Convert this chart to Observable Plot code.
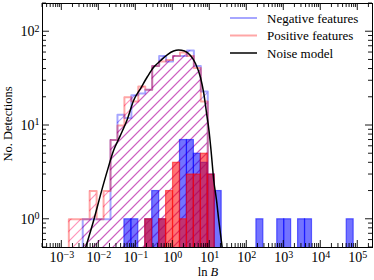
<!DOCTYPE html>
<html><head><meta charset="utf-8">
<script src="https://cdn.jsdelivr.net/npm/d3@7"></script>
<script src="https://cdn.jsdelivr.net/npm/@observablehq/plot@0.6"></script>
<style>body{margin:0;background:#fff}</style>
</head><body><div id="chart"></div>
<script>
// ---- data ----
// histogram bins: log10 of first edge and log10 bin width (log-spaced bins)
const binLog0 = -2.811;
const binLogW = 0.1878;
// step (hatched) histograms, counts per bin starting at bin 0
const negStepCounts = [0,0,1,1,1,1,7,13,12,21,22,24,43,55,48,55,55,63,43,23];
const posStepCounts = [1,1,1,2,1,2,7,10,20,18,26,24,43,48,50,55,60,55,41,18];
// filled histograms, counts per bin starting at bin 0
const negBarCounts = [0,0,0,0,0,0,0,0,1,1, 0,1,2,1,0,0,7,7,5,4, 3,2,0,0,0,0,0,1,0,0, 1,1,0,1,1,0,0,0,0,0, 1];
const posBarCounts = [0,0,0,0,0,0,0,0,0,0, 0,1,0,1,2,4,1,3,3,5, 3,0];
// noise model curve
const noiseX = [0.0044,0.0074,0.011,0.017,0.025,0.038,0.060,0.087,0.134,0.207,0.30,0.47,0.72,1.05,1.43,2.07,3.0,4.1,5.6,6.8,8.2,9.5,10.8,12.8,15.2,17.5,21.6];
const noiseY = [0.5,1.0,1.8,3.3,5.4,7.8,11.9,18.5,24.8,33.3,41.5,49.3,57.1,62.3,63.8,62.3,55.7,45.8,32.5,22.5,13.4,8.85,5.41,2.59,1.59,0.97,0.5];
// axes
const xDomain = [3e-4, 2.5e5];
const yDomain = [0.5, 200];
const xMajor = [1e-3,1e-2,1e-1,1e0,1e1,1e2,1e3,1e4,1e5];
const xExp = ["−3","−2","−1","0","1","2","3","4","5"];
const yMajor = [1,10,100];
const yExp = ["0","1","2"];
const legendLabels = ["Negative features","Positive features","Noise model"];

// ---- build ----
const floor = 0.2;
const edge = k => Math.pow(10, binLog0 + k*binLogW);
function stepPts(c){
  const p = [{x: edge(0), y: floor}];
  c.forEach((v,k) => p.push({x: edge(k), y: v > 0 ? v : floor}));
  p.push({x: edge(c.length), y: floor});
  return p;
}
const bars = c => c.map((v,k)=>({x1: edge(k), x2: edge(k+1), c: v})).filter(d=>d.c>0);
const negPts = stepPts(negStepCounts), posPts = stepPts(posStepCounts);
const noise = noiseX.map((x,i)=>({x, y: noiseY[i]}));

const cNegL = "rgba(0,0,255,0.35)", cPosL = "rgba(255,0,0,0.35)";
const cNegH = "rgba(40,0,255,0.38)", cPosH = "rgba(255,0,90,0.42)";
const cNegF = "rgba(0,0,255,0.55)", cPosF = "rgba(255,0,0,0.55)";
const xi = new Map(xMajor.map((v,i)=>[v,xExp[i]]));
const yi = new Map(yMajor.map((v,i)=>[v,yExp[i]]));
const FONT = "'Liberation Serif', serif";

const plot = Plot.plot({
  width: 374, height: 280,
  marginLeft: 42, marginRight: 2, marginTop: 3, marginBottom: 33,
  x: {type: "log", domain: xDomain},
  y: {type: "log", domain: yDomain},
  style: {fontFamily: FONT, fontSize: "14px", color: "black", background: "white"},
  marks: [
    Plot.areaY(negPts, {x: "x", y1: floor, y2: "y", curve: "step-after", fill: "url(#hatchNeg)", clip: true}),
    Plot.areaY(posPts, {x: "x", y1: floor, y2: "y", curve: "step-after", fill: "url(#hatchPos)", clip: true}),
    Plot.line(negPts, {x: "x", y: "y", curve: "step-after", stroke: cNegL, strokeWidth: 2, clip: true}),
    Plot.line(posPts, {x: "x", y: "y", curve: "step-after", stroke: cPosL, strokeWidth: 2, clip: true}),
    Plot.rect(bars(negBarCounts), {x1: "x1", x2: "x2", y1: floor, y2: "c", fill: cNegF, stroke: cNegF, strokeWidth: 1.2, clip: true}),
    Plot.rect(bars(posBarCounts), {x1: "x1", x2: "x2", y1: floor, y2: "c", fill: cPosF, stroke: cPosF, strokeWidth: 1.2, clip: true}),
    Plot.line(noise, {x: "x", y: "y", curve: "monotone-x", stroke: "black", strokeWidth: 1.5, clip: true}),
    Plot.frame({stroke: "black", strokeWidth: 1}),
    Plot.axisX({ticks: xMajor, tickSize: 0, tickPadding: 5, tickFormat: d => "10^" + xi.get(d), label: null}),
    Plot.axisY({ticks: yMajor, tickSize: 0, tickPadding: 3, tickFormat: d => "10^" + yi.get(d), label: null})
  ]
});
document.getElementById("chart").appendChild(plot);

const svg = d3.select(plot);
const defs = svg.insert("defs", ":first-child");
[["hatchNeg", cNegH], ["hatchPos", cPosH]].forEach(([id, col]) => {
  const p = defs.append("pattern").attr("id", id).attr("patternUnits", "userSpaceOnUse")
    .attr("width", 10).attr("height", 10);
  p.append("path").attr("d", "M-2.5,2.5L2.5,-2.5M0,10L10,0M7.5,12.5L12.5,7.5")
    .attr("stroke", col).attr("stroke-width", 1.2).attr("fill", "none");
});

// superscript exponents
svg.selectAll('g[aria-label="x-axis tick label"] text, g[aria-label="y-axis tick label"] text').each(function(){
  const t = d3.select(this); const s = t.text(); const [b, e] = s.split("^");
  t.text(null);
  t.append("tspan").text(b);
  t.append("tspan").attr("dy", "-0.45em").attr("font-size", "10px").text(e);
});

// inward ticks on all four sides
const sx = plot.scale("x"), sy = plot.scale("y");
const L = 42, R = 372, T = 3, B = 247;
const tg = svg.append("g").attr("stroke", "black").attr("stroke-width", 0.9);
const xMinor = [], yMinor = [];
for (let d = -4; d <= 5; d++) for (let m = 2; m <= 9; m++) { const v = m*Math.pow(10,d); if (v >= xDomain[0] && v <= xDomain[1]) xMinor.push(v); }
for (let d = -1; d <= 2; d++) for (let m = 2; m <= 9; m++) { const v = m*Math.pow(10,d); if (v >= yDomain[0] && v <= yDomain[1]) yMinor.push(v); }
const tx = (v, len) => { const X = sx.apply(v); tg.append("line").attr("x1",X).attr("x2",X).attr("y1",B).attr("y2",B-len); tg.append("line").attr("x1",X).attr("x2",X).attr("y1",T).attr("y2",T+len); };
const ty = (v, len) => { const Y = sy.apply(v); tg.append("line").attr("y1",Y).attr("y2",Y).attr("x1",L).attr("x2",L+len); tg.append("line").attr("y1",Y).attr("y2",Y).attr("x1",R).attr("x2",R-len); };
xMajor.forEach(v => tx(v, 7)); xMinor.forEach(v => tx(v, 4));
yMajor.forEach(v => ty(v, 7)); yMinor.forEach(v => ty(v, 4));

// axis titles
svg.append("text").attr("transform", "translate(12,124) rotate(-90)").attr("text-anchor", "middle")
  .attr("font-family", FONT).attr("font-size", "12.5px").attr("fill", "black").text("No. Detections");
const xl = svg.append("text").attr("x", 208).attr("y", 276).attr("text-anchor", "middle")
  .attr("font-family", FONT).attr("font-size", "12.5px").attr("fill", "black");
xl.append("tspan").text("ln ");
xl.append("tspan").attr("font-style", "italic").text("B");

// legend
const lg = svg.append("g");
const lcols = [cNegL, cPosL, "black"], lw = [2, 2, 1.5];
legendLabels.forEach((s, i) => {
  const y = 18 + i*17.5;
  lg.append("line").attr("x1", 230).attr("x2", 257).attr("y1", y).attr("y2", y).attr("stroke", lcols[i]).attr("stroke-width", lw[i]);
  lg.append("text").attr("x", 267).attr("y", y + 4.5).attr("text-anchor", "start")
    .attr("font-family", FONT).attr("font-size", "13px").attr("fill", "black").text(s);
});
</script>
</body></html>
